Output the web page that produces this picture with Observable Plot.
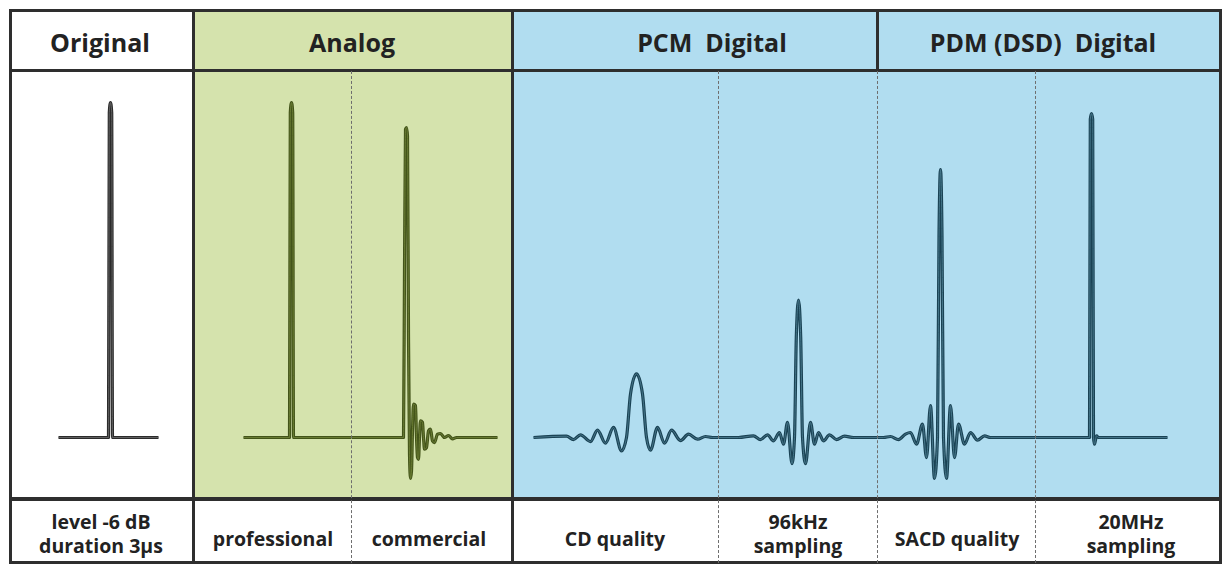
<!DOCTYPE html>
<html><head><meta charset="utf-8">
<script src="https://cdn.jsdelivr.net/npm/d3@7"></script>
<script src="https://cdn.jsdelivr.net/npm/@observablehq/plot@0.6"></script>
<style>
html,body{margin:0;padding:0;background:#fff;}
#chart{position:relative;width:1224px;height:565px;overflow:hidden;font-family:"Open Sans",sans-serif;color:#222;}
.abs{position:absolute;box-sizing:border-box;}
.hdr{position:absolute;font-weight:700;font-size:25px;white-space:pre;transform:translate(-50%,-50%);line-height:1;}
.ftr{position:absolute;font-weight:700;font-size:19.5px;white-space:pre;transform:translate(-50%,-50%);line-height:24px;text-align:center;}
</style></head><body><div id="chart"></div>
<script>
// ---------- data ----------
const groupNames = ["Original", "Analog", "PCM  Digital", "PDM (DSD)  Digital"];
const panelLabels = [["level -6 dB","duration 3µs"],["professional"],["commercial"],["CD quality"],["96kHz","sampling"],["SACD quality"],["20MHz","sampling"]];

// impulse responses: time (µs, relative to impulse) and amplitude (1 = original pulse)
const originalT = [-52, -2, -1.2, 0, 1.2, 2, 48];
const originalA = [0, 0, 0.97, 1.0, 0.97, 0, 0];

const professionalT = [-48, -2, -1.2, 0, 1.2, 2, 60];
const professionalA = [0, 0, 0.97, 1.0, 0.97, 0, 0];

const commercialT = [-55, -3, -2, -1, 0, 1, 2, 3, 4, 5, 6, 7, 9, 10, 11, 12, 13, 14, 16, 17, 18, 20, 22, 24, 26, 28, 31, 34, 38, 42, 46, 50, 91];
const commercialA = [0, 0, 0.5, 0.92, 0.925, 0.9, 0.3, -0.05, -0.122, -0.1, 0.02, 0.1, 0.095, 0.0, -0.06, -0.065, 0.0, 0.05, 0.045, 0.0, -0.035, -0.03, 0.02, 0.025, -0.01, -0.015, 0.01, 0.012, 0.0, 0.006, -0.004, 0, 0];

const cdT = [-103, -70, -63, -56, -46, -39, -31, -23, -15, -10, -6, 0, 6, 10, 14, 21, 28, 35, 44, 52, 61, 69, 76, 82];
const cdA = [0, 0.004, -0.006, 0.008, -0.012, 0.022, -0.017, 0.03, -0.04, 0, 0.13, 0.19, 0.13, 0, -0.038, 0.03, -0.017, 0.022, -0.009, 0.01, -0.005, 0.003, 0, 0];

const hz96T = [-80, -60, -45, -38, -31, -25, -19, -15, -11, -6.5, -4, -2.2, 0, 2.2, 4, 7, 12, 16, 20, 25, 31, 38, 46, 55, 79];
const hz96A = [0, 0, 0.005, -0.006, 0.008, -0.01, 0.015, -0.02, 0.045, -0.078, 0, 0.3, 0.41, 0.3, 0, -0.078, 0.045, -0.02, 0.015, -0.01, 0.008, -0.006, 0.004, 0, 0];

const sacdT = [-63, -57, -50, -42, -35, -30, -24, -18, -14, -10, -6, -3, -1.5, 0, 1.5, 3, 6, 10, 14, 18, 24, 30, 37, 44, 50, 95];
const sacdA = [0, 0, 0.003, -0.006, 0.01, 0.015, -0.02, 0.04, -0.06, 0.095, -0.122, 0, 0.6, 0.80, 0.6, 0, -0.122, 0.095, -0.06, 0.04, -0.02, 0.015, -0.008, 0.005, 0, 0];

const mhz20T = [-56, -2, -1.2, 0, 1.2, 2, 3, 5, 7, 76];
const mhz20A = [0, 0, 0.95, 0.967, 0.95, 0, -0.02, 0.005, 0, 0];

// ---------- layout ----------
const chart = document.getElementById("chart");
const edges = [10, 193, 351, 512, 718, 877, 1035, 1220];   // sub-column borders (px)
const impulseX = [110, 291, 406, 636, 798, 940, 1091];     // where each impulse sits
const bodyTop = 71, bodyH = 428;
const green = "#d5e3ad", blue = "#b1ddf0";
const bodyBg = ["#ffffff", green, green, blue, blue, blue, blue];
const hdrSpans = [[10,193,"#ffffff"],[193,512,green],[512,877,blue],[877,1220,blue]];
const hdrCenters = [100, 352, 712, 1043];
const ftrCenters = [101, 273, 429, 615, 798, 957, 1131];
const palette = {orig:["#2b2b2b","#6f6f6f"], analog:["#43541a","#74873a"], digital:["#1a4254","#4f8196"]};
const kinds = ["orig","analog","analog","digital","digital","digital","digital"];
const series = [[originalT,originalA],[professionalT,professionalA],[commercialT,commercialA],[cdT,cdA],[hz96T,hz96A],[sacdT,sacdA],[mhz20T,mhz20A]];

function div(style){ const d=document.createElement("div"); d.className="abs"; Object.assign(d.style,style); chart.appendChild(d); return d; }

// header backgrounds
hdrSpans.forEach(([x0,x1,c])=>div({left:x0+"px",top:"10px",width:(x1-x0)+"px",height:"61px",background:c}));
// body backgrounds
bodyBg.forEach((c,i)=>div({left:edges[i]+"px",top:bodyTop+"px",width:(edges[i+1]-edges[i])+"px",height:bodyH+"px",background:c}));

// waveform panels
series.forEach(([T,A],i)=>{
  const data = T.map((t,j)=>({t, a:A[j]}));
  const [dark, light] = palette[kinds[i]];
  const w = edges[i+1]-edges[i];
  const svg = Plot.plot({
    width: w, height: bodyH, margin: 0,
    x: {domain: [edges[i]-impulseX[i], edges[i+1]-impulseX[i]], axis: null},
    y: {domain: [-0.185, 1.0925], axis: null},
    style: {background: "transparent", overflow: "hidden"},
    marks: [
      Plot.line(data, {x: "t", y: "a", stroke: dark, strokeWidth: 3.2, curve: "monotone-x", strokeLinejoin: "round", strokeLinecap: "butt"}),
      Plot.line(data, {x: "t", y: "a", stroke: light, strokeWidth: 0.8, curve: "monotone-x", strokeLinejoin: "round", strokeLinecap: "butt"})
    ]
  });
  svg.style.position = "absolute";
  svg.style.left = edges[i]+"px";
  svg.style.top = bodyTop+"px";
  chart.appendChild(svg);
});

// frame lines
const lineC = "#2e2e2e";
div({left:"9px",top:"9px",width:"1213px",height:"555px",border:"3px solid "+lineC});
div({left:"10px",top:"69px",width:"1211px",height:"3px",background:lineC});
div({left:"10px",top:"497px",width:"1211px",height:"4px",background:lineC});
[193,512].forEach(x=>div({left:(x-1)+"px",top:"10px",width:"3px",height:"553px",background:lineC}));
div({left:"876px",top:"10px",width:"3px",height:"60px",background:lineC});
[351,718,877,1035].forEach(x=>div({left:x+"px",top:"71px",width:"1px",height:"492px",borderLeft:"1px dashed #6e6e6e"}));

// header text
groupNames.forEach((g,i)=>{ const d=document.createElement("div"); d.className="hdr"; d.textContent=g; d.style.left=hdrCenters[i]+"px"; d.style.top="42px"; chart.appendChild(d); });
// footer text
panelLabels.forEach((lines,i)=>{ const d=document.createElement("div"); d.className="ftr"; d.textContent=lines.join("\n"); d.style.left=ftrCenters[i]+"px"; d.style.top=(lines.length>1?534:539)+"px"; chart.appendChild(d); });
</script></body></html>
